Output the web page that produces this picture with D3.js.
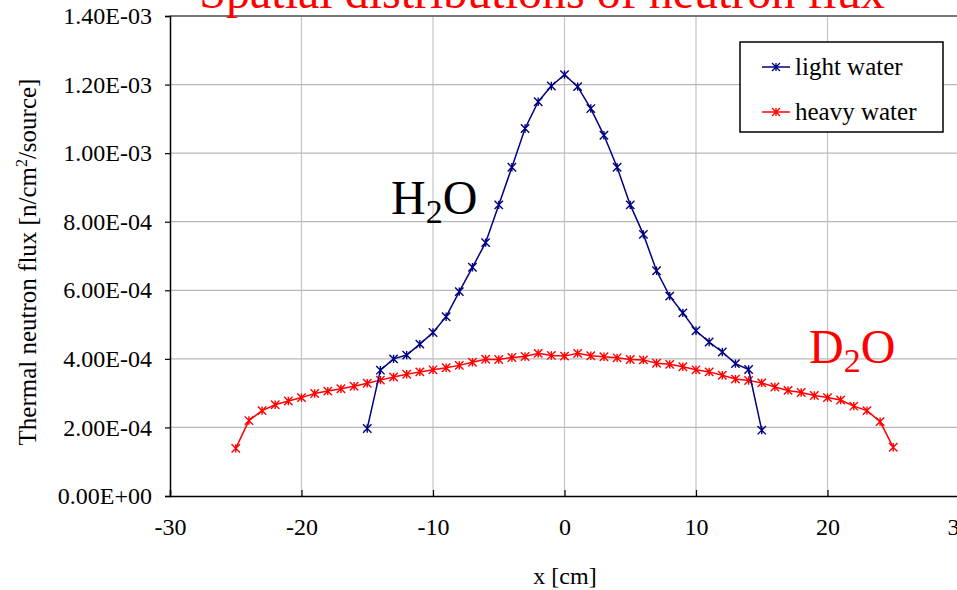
<!DOCTYPE html>
<html><head><meta charset="utf-8">
<script src="https://cdn.jsdelivr.net/npm/d3@7"></script>
<style>
html,body{margin:0;padding:0;background:#fff;overflow:hidden;}
svg{display:block;}
text{font-family:"Liberation Serif","Times New Roman",serif;}
</style></head>
<body>
<svg id="chart" width="957" height="590"></svg>
<script>
// ---- data ----
const lightX = d3.range(-15, 16);
const lightY = [1.97,3.67,4.00,4.11,4.43,4.77,5.23,5.96,6.67,7.39,8.49,9.59,10.72,11.50,11.96,12.29,
  11.94,11.30,10.52,9.59,8.49,7.63,6.57,5.83,5.34,4.82,4.49,4.20,3.86,3.69,1.92].map(v=>v*1e-4);
const heavyX = d3.range(-25, 26);
const heavyY = [1.39,2.20,2.49,2.66,2.77,2.87,2.99,3.06,3.13,3.20,3.29,3.38,3.47,3.55,3.62,3.68,3.74,3.81,3.90,3.99,3.98,4.04,4.07,4.16,4.10,4.08,
  4.16,4.09,4.06,4.03,3.98,3.97,3.87,3.84,3.77,3.68,3.62,3.52,3.41,3.37,3.30,3.18,3.08,3.02,2.93,2.87,2.80,2.62,2.49,2.17,1.42].map(v=>v*1e-4);
const xTicks = [-30,-20,-10,0,10,20,30];
const xTickLabels = ["-30","-20","-10","0","10","20","30"];
const yTicks = [0,2e-4,4e-4,6e-4,8e-4,1e-3,1.2e-3,1.4e-3];
const yTickLabels = ["0.00E+00","2.00E-04","4.00E-04","6.00E-04","8.00E-04","1.00E-03","1.20E-03","1.40E-03"];
const seriesNames = ["light water","heavy water"];
const seriesColors = ["#000080","#ff0000"];
const titleText = "Spatial distributions of neutron flux";

// ---- layout ----
const svg = d3.select("#chart");
const x = d3.scaleLinear().domain([-30,30]).range([170,959]);
const y = d3.scaleLinear().domain([0,1.4e-3]).range([496,16]);

// gridlines
const g = svg.append("g");
g.selectAll("line.vg").data(xTicks.slice(1)).join("line")
  .attr("x1",d=>x(d)).attr("x2",d=>x(d)).attr("y1",y(1.4e-3)).attr("y2",y(0))
  .attr("stroke","#c4c4c4").attr("stroke-width",1.2);
g.selectAll("line.hg").data(yTicks.slice(1)).join("line")
  .attr("x1",x(-30)).attr("x2",x(30)).attr("y1",d=>y(d)).attr("y2",d=>y(d))
  .attr("stroke",d=>d===1.4e-3?"#777":"#b8b8b8").attr("stroke-width",d=>d===1.4e-3?2:1.2);

// axes
const yAxis = d3.axisLeft(y).tickValues(yTicks).tickSize(5).tickFormat((d,i)=>yTickLabels[i]).tickPadding(13);
const ya = svg.append("g").attr("transform",`translate(${x(-30)},0)`).call(yAxis);
ya.select(".domain").attr("stroke","#000").attr("stroke-width",1.5);
ya.selectAll(".tick line").attr("stroke","#000").attr("stroke-width",1.2);
ya.selectAll("text").attr("font-family","Liberation Serif, serif").attr("font-size",24).attr("fill","#000");

const xAxis = d3.axisBottom(x).tickValues(xTicks).tickSize(-6).tickFormat((d,i)=>xTickLabels[i]).tickPadding(22);
const xa = svg.append("g").attr("transform",`translate(0,${y(0)})`).call(xAxis);
xa.select(".domain").attr("stroke","#000").attr("stroke-width",1.5);
xa.selectAll(".tick line").attr("stroke","#000").attr("stroke-width",1.2);
xa.selectAll("text").attr("font-family","Liberation Serif, serif").attr("font-size",24).attr("fill","#000");

// series
const star = s => `M${-s},${-s}L${s},${s}M${-s},${s}L${s},${-s}M0,${-s}L0,${s}`;
const line = d3.line().x(d=>x(d[0])).y(d=>y(d[1]));
const series = [d3.zip(lightX, lightY), d3.zip(heavyX, heavyY)];
[1,0].forEach(i=>{
  const sg = svg.append("g");
  sg.append("path").datum(series[i]).attr("d",line).attr("fill","none")
    .attr("stroke",seriesColors[i]).attr("stroke-width",1.5);
  sg.selectAll("path.m").data(series[i]).join("path").attr("class","m")
    .attr("transform",d=>`translate(${x(d[0])},${y(d[1])})`)
    .attr("d",star(4.2)).attr("stroke",seriesColors[i]).attr("stroke-width",1.4).attr("fill","none");
});

// legend
const lg = svg.append("g");
lg.append("rect").attr("x",740).attr("y",42).attr("width",203).attr("height",90)
  .attr("fill","#fff").attr("stroke","#000").attr("stroke-width",1.5);
seriesNames.forEach((n,i)=>{
  const yy = 67 + i*45;
  lg.append("line").attr("x1",762).attr("x2",790).attr("y1",yy).attr("y2",yy)
    .attr("stroke",seriesColors[i]).attr("stroke-width",1.5);
  lg.append("path").attr("transform",`translate(776,${yy})`).attr("d",star(4))
    .attr("stroke",seriesColors[i]).attr("stroke-width",1.3);
  lg.append("text").attr("x",795).attr("y",yy+8).attr("font-size",25).text(n);
});

// title
svg.append("text").attr("x",542).attr("y",8).attr("text-anchor","middle")
  .attr("font-size",48).attr("fill","#ff0000").text(titleText);

// axis titles
svg.append("text").attr("transform","translate(36,262) rotate(-90)").attr("text-anchor","middle")
  .attr("font-size",25).attr("fill","#000")
  .html('Thermal neutron flux [n/cm<tspan dy="-9" font-size="16">2</tspan><tspan dy="9">/source]</tspan>');
svg.append("text").attr("x",565).attr("y",584).attr("text-anchor","middle")
  .attr("font-size",24).attr("fill","#000").text("x [cm]");

// annotations
svg.append("text").attr("x",391).attr("y",214).attr("font-size",48).attr("fill","#000")
  .html('H<tspan dy="9" font-size="34">2</tspan><tspan dy="-9">O</tspan>');
svg.append("text").attr("x",809).attr("y",363).attr("font-size",48).attr("fill","#ff0000")
  .html('D<tspan dy="9" font-size="34">2</tspan><tspan dy="-9">O</tspan>');
</script>
</body></html>
